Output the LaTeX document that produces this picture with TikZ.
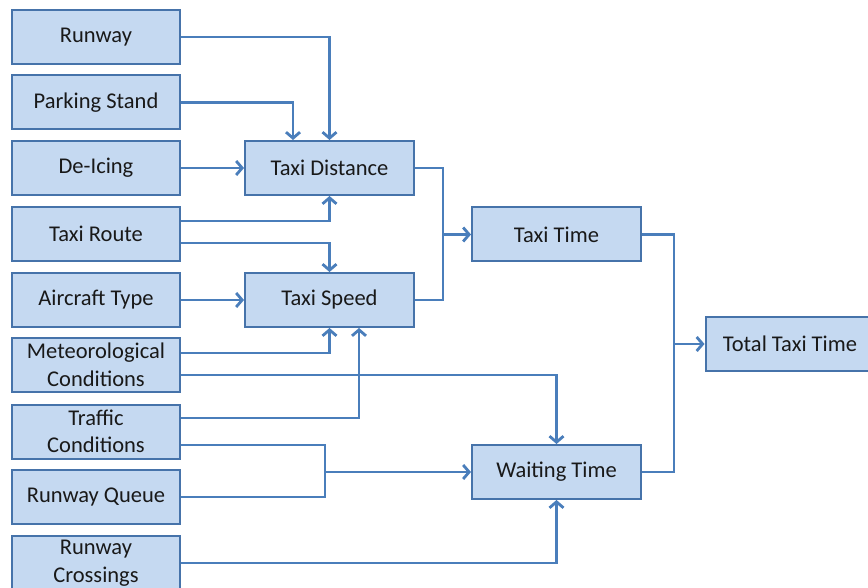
\documentclass[tikz,border=0pt]{standalone}
\usepackage{fontspec}
\setmainfont{Carlito}
\usetikzlibrary{arrows.meta}
\definecolor{boxfill}{RGB}{197,217,241}
\definecolor{boxline}{RGB}{70,115,170}
\definecolor{wire}{RGB}{74,126,187}
\definecolor{ink}{RGB}{25,25,25}
\tikzset{
  factor/.style={draw=boxline, line width=2pt, fill=boxfill, text=ink,
    minimum width=168pt, minimum height=54pt, inner sep=0pt, align=center,
    font=\fontsize{22.5}{27.5}\selectfont},
  wireline/.style={draw=wire, line width=2.8pt},
  arr/.style={wireline, -{Straight Barb[length=6pt,width=14pt,line width=2.8pt]}},
}
\begin{document}
\begin{tikzpicture}[x=1pt,y=-1pt]
\useasboundingbox[fill=white] (0,0) rectangle (868,588);

% input factors
\node[factor] (runway)    at (96,37)    {Runway};
\node[factor] (parking)   at (96,102.5) {Parking Stand};
\node[factor] (deicing)   at (96,168)   {De-Icing};
\node[factor] (troute)    at (96,234)   {Taxi Route};
\node[factor] (aircraft)  at (96,300)   {Aircraft Type};
\node[factor] (meteo)     at (96,365)   {Meteorological\\Conditions};
\node[factor] (traffic)   at (96,431.5) {Traffic\\Conditions};
\node[factor] (queue)     at (96,497)   {Runway Queue};
\node[factor] (crossings) at (96,563)   {Runway\\Crossings};

% intermediate quantities
\node[factor, minimum width=169pt] (tdist)   at (329.5,168)   {Taxi Distance};
\node[factor, minimum width=169pt] (tspeed)  at (329.5,300)   {Taxi Speed};
\node[factor, minimum width=169pt] (ttime)   at (556.5,234.5) {Taxi Time};
\node[factor, minimum width=169pt] (waiting) at (556.5,472)   {Waiting Time};
\node[factor, minimum width=169pt] (total)   at (790,344)     {Total Taxi Time};

% junction points
\coordinate (jqueue) at (325,472);
\coordinate (jtaxi)  at (443,234.5);
\coordinate (jtotal) at (674,344);

% into Taxi Distance
\draw[arr] (runway.east) -| (tdist.north);
\draw[arr] (parking.east) -| ([xshift=-36.5pt]tdist.north);
\draw[arr] (deicing.east) -- (tdist.west);
\draw[arr] ([yshift=13pt]troute.east) -| (tdist.south);

% into Taxi Speed
\draw[arr] ([yshift=-9pt]troute.east) -| (tspeed.north);
\draw[arr] (aircraft.east) -- (tspeed.west);
\draw[arr] ([yshift=12pt]meteo.east) -| (tspeed.south);
\draw[arr] ([yshift=13.5pt]traffic.east) -| ([xshift=29.5pt]tspeed.south);

% into Waiting Time
\draw[arr] ([yshift=-10pt]meteo.east) -| (waiting.north);
\draw[wireline] ([yshift=-13.5pt]traffic.east) -| (jqueue) |- (queue.east);
\draw[arr] (jqueue) -- (waiting.west);
\draw[arr] (crossings.east) -| (waiting.south);

% into Taxi Time
\draw[wireline] (tdist.east) -| (jtaxi) |- (tspeed.east);
\draw[arr] (jtaxi) -- (ttime.west);

% into Total Taxi Time
\draw[wireline] (ttime.east) -| (jtotal) |- (waiting.east);
\draw[arr] (jtotal) -- (total.west);
\end{tikzpicture}
\end{document}
